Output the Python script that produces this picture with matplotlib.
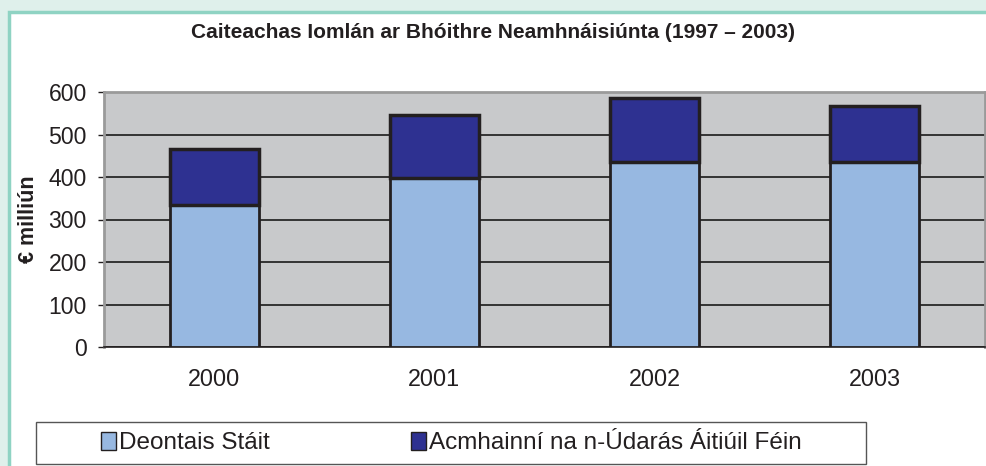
import matplotlib
matplotlib.use("Agg")
import matplotlib.pyplot as plt
from matplotlib.patches import Rectangle, Patch
import numpy as np

plt.rcParams['font.family'] = ['Liberation Sans', 'DejaVu Sans']

years = ['2000', '2001', '2002', '2003']
deontais_stait = [335, 398, 435, 435]
acmhainni_aitiuil = [130, 149, 152, 133]

title = 'Caiteachas Iomlán ar Bhóithre Neamhnáisiúnta (1997 – 2003)'
ylabel = '€ milliún'
labels = ['Deontais Stáit', 'Acmhainní na n-Údarás Áitiúil Féin']

light = '#97b8e1'
dark = '#2e3191'
edge = '#231f20'

W, H = 987, 466
fig = plt.figure(figsize=(W / 100, H / 100), dpi=100, facecolor='#dff0eb')

# white panel with teal border
fig.patches.append(Rectangle((9 / W, -0.05), 1.1, (H - 12) / H + 0.05,
                             transform=fig.transFigure, facecolor='white',
                             edgecolor='#8fd3c3', linewidth=2.5, zorder=-1))

ax = fig.add_axes([104 / W, 1 - 347 / H, 881 / W, 255 / H])
ax.set_zorder(2)
ax.set_facecolor('#c8c9cb')

x = np.arange(len(years))
ax.bar(x, deontais_stait, width=0.405, color=light, edgecolor=edge,
       linewidth=2, zorder=3)
ax.bar(x, acmhainni_aitiuil, bottom=deontais_stait, width=0.405, color=dark,
       edgecolor=edge, linewidth=2.5, zorder=3)

ax.set_xlim(-0.5, 3.5)
ax.set_ylim(0, 600)
ax.set_yticks(range(0, 601, 100))
ax.yaxis.grid(True, color='#1a1a1a', linewidth=1.2, zorder=1)
ax.set_axisbelow(True)
ax.set_xticks(x)
ax.set_xticklabels(years)
ax.tick_params(axis='x', length=0, pad=15, labelsize=16.8, colors='#231f20')
ax.tick_params(axis='y', length=4.5, width=1, pad=8, labelsize=16.6,
               colors='#231f20')
for s in ['left', 'top', 'right']:
    ax.spines[s].set_color('#9a9a9a')
    ax.spines[s].set_linewidth(2)
ax.spines['bottom'].set_color('#231f20')
ax.spines['bottom'].set_linewidth(1.2)

ax.set_ylabel(ylabel, fontsize=15.5, fontweight='bold', labelpad=7,
              color='#231f20')

fig.text(493 / W, 1 - 32 / H, title, ha='center', va='center',
         fontsize=15, fontweight='bold', color='#231f20')

# legend box drawn separately so entries can sit inset like the original
fig.patches.append(Rectangle((36 / W, 1 - 464 / H), 830 / W, 42 / H,
                             transform=fig.transFigure, facecolor='white',
                             edgecolor='#555555', linewidth=1, zorder=1))
handles = [Patch(facecolor=light, edgecolor=edge, linewidth=1),
           Patch(facecolor=dark, edgecolor=edge, linewidth=1)]
leg = fig.legend(handles, labels, loc='center left', ncol=2,
                 bbox_to_anchor=(101 / W, 1 - 443 / H), fontsize=17.5,
                 frameon=False, handlelength=0.6, handleheight=0.8,
                 handletextpad=0.15, columnspacing=5.8, borderpad=0,
                 borderaxespad=0)
leg.set_zorder(3)
for t in leg.get_texts():
    t.set_color('#231f20')

fig.savefig('out.png', dpi=100, facecolor=fig.get_facecolor())
